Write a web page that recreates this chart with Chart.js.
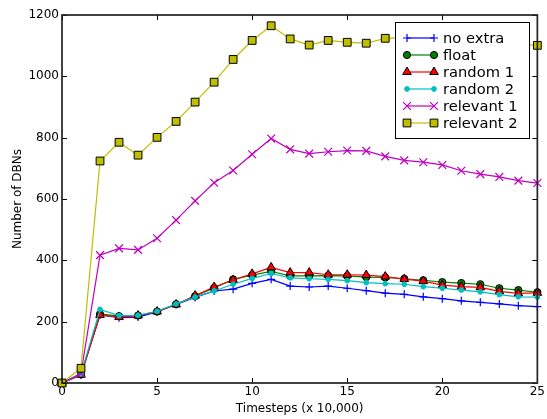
<!DOCTYPE html>
<html>
<head>
<meta charset="utf-8">
<script src="https://cdn.jsdelivr.net/npm/chart.js@4.4.1/dist/chart.umd.min.js"></script>
<style>
  html, body { margin: 0; padding: 0; background: #fff; }
  #wrap { width: 547px; height: 419px; }
</style>
</head>
<body>
<div id="wrap"><canvas id="dbnChart" width="547" height="419"></canvas></div>
<script>
// timesteps in units of 10,000
const timesteps = [0, 1, 2, 3, 4, 5, 6, 7, 8, 9, 10, 11, 12, 13, 14, 15, 16, 17, 18, 19, 20, 21, 22, 23, 24, 25];

const noExtra   = [0, 26, 222, 213, 215, 232, 256, 279, 300, 306, 325, 338, 316, 313, 316, 309, 301, 293, 289, 281, 275, 268, 263, 258, 252, 249];
const floatVals = [0, 28, 225, 218, 220, 233, 257, 283, 310, 338, 352, 364, 349, 349, 350, 349, 345, 344, 340, 335, 329, 326, 322, 309, 303, 296];
const random1   = [0, 27, 222, 215, 220, 233, 256, 285, 313, 336, 356, 377, 360, 360, 353, 353, 352, 347, 339, 332, 319, 314, 312, 299, 292, 294];
const random2   = [0, 30, 240, 220, 221, 234, 258, 280, 300, 322, 341, 357, 343, 340, 338, 334, 327, 324, 322, 314, 309, 303, 297, 288, 281, 280];
const relevant1 = [0, 32, 417, 439, 434, 472, 531, 594, 653, 693, 746, 797, 762, 748, 754, 758, 757, 739, 726, 720, 711, 692, 681, 672, 660, 652];
const relevant2 = [0, 48, 724, 785, 743, 801, 853, 916, 981, 1055, 1117, 1165, 1122, 1102, 1117, 1111, 1108, 1124, 1126, 1124, 1122, 1120, 1116, 1110, 1105, 1101];

const seriesNames = ['no extra', 'float', 'random 1', 'random 2', 'relevant 1', 'relevant 2'];
const xTicks = [0, 5, 10, 15, 20, 25];
const yTicks = [0, 200, 400, 600, 800, 1000, 1200];

const FONT = 'DejaVu Sans';

function pts(vals) {
    return vals.map((v, i) => ({ x: timesteps[i], y: v }));
}

const styles = [
    { line: '#0000ff', fill: '#0000ff', edge: '#0000ff', shape: 'cross', r: 4, bw: 1.2 },
    { line: '#008000', fill: '#008000', edge: '#000000', shape: 'circle', r: 3.6, bw: 1 },
    { line: '#ff0000', fill: '#ff0000', edge: '#000000', shape: 'triangle', r: 5, bw: 1 },
    { line: '#00bfbf', fill: '#00bfbf', edge: '#00bfbf', shape: 'circle', r: 2.4, bw: 1 },
    { line: '#bf00bf', fill: '#bf00bf', edge: '#bf00bf', shape: 'crossRot', r: 5.5, bw: 1.2 },
    { line: '#bfbf00', fill: '#bfbf00', edge: '#000000', shape: 'rect', r: 5.5, bw: 1 }
];

const allValues = [noExtra, floatVals, random1, random2, relevant1, relevant2];

const datasets = allValues.map((vals, i) => ({
    label: seriesNames[i],
    data: pts(vals),
    borderColor: styles[i].line,
    borderWidth: 1.2,
    backgroundColor: styles[i].fill,
    pointStyle: styles[i].shape,
    pointRadius: styles[i].r,
    pointHoverRadius: styles[i].r,
    pointBackgroundColor: styles[i].fill,
    pointBorderColor: styles[i].edge,
    pointBorderWidth: styles[i].bw,
    tension: 0,
    clip: false,
    order: allValues.length - i
}));

// matplotlib-like frame, inward ticks and boxed legend
const mplDecor = {
    id: 'mplDecor',
    afterDraw(chart) {
        const ctx = chart.ctx;
        const a = chart.chartArea;
        const xs = chart.scales.x, ys = chart.scales.y;
        ctx.save();
        ctx.strokeStyle = '#000';
        ctx.lineWidth = 1;
        ctx.beginPath();
        xTicks.forEach(t => {
            const px = Math.round(xs.getPixelForValue(t)) + 0.5;
            ctx.moveTo(px, a.bottom); ctx.lineTo(px, a.bottom - 5);
            ctx.moveTo(px, a.top); ctx.lineTo(px, a.top + 5);
        });
        yTicks.forEach(t => {
            const py = Math.round(ys.getPixelForValue(t)) + 0.5;
            ctx.moveTo(a.left, py); ctx.lineTo(a.left + 5, py);
            ctx.moveTo(a.right, py); ctx.lineTo(a.right - 5, py);
        });
        ctx.stroke();
        ctx.strokeStyle = '#222';
        ctx.lineWidth = 1.7;
        ctx.strokeRect(a.left, a.top, a.right - a.left, a.bottom - a.top);

        // legend
        const bx = 395, by = 22, bw = 134, bh = 116;
        ctx.fillStyle = '#fff';
        ctx.fillRect(bx, by, bw, bh);
        ctx.lineWidth = 1;
        ctx.strokeStyle = '#000';
        ctx.strokeRect(bx + 0.5, by + 0.5, bw, bh);
        ctx.font = '14.7px "' + FONT + '"';
        ctx.textBaseline = 'middle';
        seriesNames.forEach((name, i) => {
            const y = 38 + i * 17;
            const s = styles[i];
            ctx.strokeStyle = s.line;
            ctx.lineWidth = 1.2;
            ctx.beginPath();
            ctx.moveTo(407, y); ctx.lineTo(434, y);
            ctx.stroke();
            [407, 434].forEach(px => {
                ctx.fillStyle = s.fill;
                ctx.strokeStyle = s.edge;
                ctx.lineWidth = s.bw;
                Chart.helpers.drawPoint(ctx, { pointStyle: s.shape, radius: s.r, borderWidth: s.bw, rotation: 0 }, px, y);
            });
            ctx.fillStyle = '#000';
            ctx.fillText(name, 443, y + 1);
        });
        ctx.restore();
    }
};

const ctx = document.getElementById('dbnChart').getContext('2d');
new Chart(ctx, {
    type: 'line',
    data: { datasets: datasets },
    options: {
        responsive: false,
        animation: false,
        events: [],
        layout: { padding: { top: 15, right: 8, left: 0, bottom: 0 } },
        scales: {
            x: {
                type: 'linear',
                min: 0,
                max: 25,
                afterBuildTicks: (scale) => { scale.ticks = xTicks.map(v => ({ value: v })); },
                afterFit: (scale) => { scale.height = 36; },
                grid: { display: false, drawTicks: false },
                border: { display: false },
                ticks: { color: '#000', font: { family: FONT, size: 12 }, padding: 2, maxRotation: 0, callback: (v) => String(v) },
                title: { display: true, text: 'Timesteps (x 10,000)', color: '#000', font: { family: FONT, size: 12 }, padding: { top: 0, bottom: 3 } }
            },
            y: {
                min: 0,
                max: 1200,
                afterBuildTicks: (scale) => { scale.ticks = yTicks.map(v => ({ value: v })); },
                afterFit: (scale) => { scale.width = 62; },
                grid: { display: false, drawTicks: false },
                border: { display: false },
                ticks: { color: '#000', font: { family: FONT, size: 12 }, padding: 3, callback: (v) => String(v) },
                title: { display: true, text: 'Number of DBNs', color: '#000', font: { family: FONT, size: 12 }, padding: { top: 11, bottom: 0 } }
            }
        },
        plugins: {
            legend: { display: false },
            tooltip: { enabled: false }
        }
    },
    plugins: [mplDecor]
});
</script>
</body>
</html>
